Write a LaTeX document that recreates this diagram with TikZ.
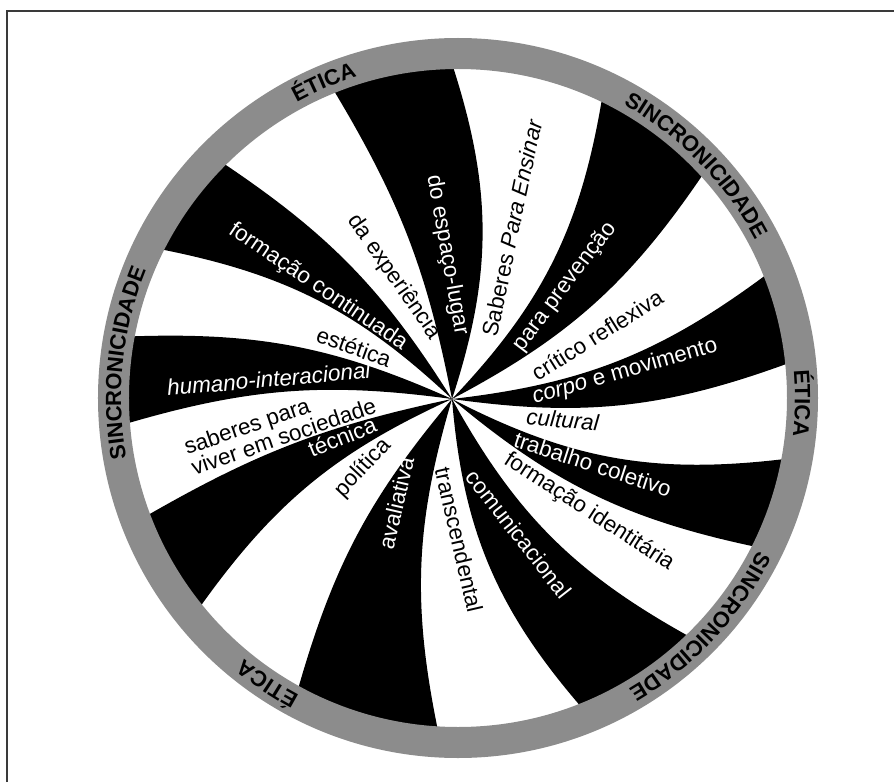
\documentclass[tikz,border=0pt]{standalone}
\usepackage{fontspec}
\setmainfont{Liberation Sans}
\usepackage{xcolor}
\definecolor{ringgray}{HTML}{8C8C8C}
\definecolor{frameline}{HTML}{3A3A3A}
\usepackage{tikz}
\usetikzlibrary{decorations.text}

\begin{document}
\begin{tikzpicture}[x=1pt, y=1pt,
    every node/.style={font=\fontsize{22.5}{20}\selectfont, inner sep=0pt},
    onblack/.style={text=white},
    onwhite/.style={text=black},
    spoke/.style={fill=black},
    ring/.style={draw=ringgray, line width=31pt},
    ringtext/.style={decorate, decoration={text along path, text align=center,
        text={|\fontsize{22}{22}\selectfont\bfseries|#1}}}]
  \useasboundingbox (-458,-384) rectangle (436,398);
  % frame
  \coordinate (fa) at (-451,-384);
  \coordinate (fb) at (-451,387);
  \coordinate (fc) at (436,387);
  \draw[frameline, line width=2pt] (fa) -- (fb) -- (fc);
  % pinwheel spokes: edge angle/bend, edge angle/bend
  \coordinate (hub) at (-6,-1);
  \foreach \a/\ba/\b/\bb in {112/10/90.9/18, 64.3/17/42.4/14, 21.8/15/6.0/14,
                             -10.6/17/-26.6/14, -45.9/16/-68.3/18,
                             -93.5/14/-118.8/12, -141/15/-159.3/9,
                             184.4/12/169.3/13, 153.4/16/135/12}
    \fill[spoke] (hub) to[bend right=\ba] (\a:332)
      arc[start angle=\a, end angle=\b, radius=332] to[bend left=\bb] (hub);
  % ring
  \draw[ring] (0,0) circle[radius=344.5];
  \path[ringtext=ÉTICA] (143:337) arc[start angle=143, end angle=83, radius=337];
  \path[ringtext=SINCRONICIDADE] (74.3:337) arc[start angle=74.3, end angle=14.3, radius=337];
  \path[ringtext=ÉTICA] (29.1:337) arc[start angle=29.1, end angle=-30.9, radius=337];
  \path[ringtext=SINCRONICIDADE] (-13.3:337) arc[start angle=-13.3, end angle=-73.3, radius=337];
  \path[ringtext=ÉTICA] (-93.7:337) arc[start angle=-93.7, end angle=-153.7, radius=337];
  \path[ringtext=SINCRONICIDADE] (204:337) arc[start angle=204, end angle=144, radius=337];
  % labels
  \node[onblack, rotate=-80] (espaco) at (-11,143) {do espaço-lugar};
  \node[onwhite, rotate=78] (ensinar) at (54,170) {Saberes \textit{Para Ensinar}};
  \node[onblack, rotate=53] (prevencao) at (107,111) {para prevenção};
  \node[onwhite, rotate=32] (critico) at (139,63) {crítico reflexiva};
  \node[onblack, rotate=16] (corpo) at (167,26) {\textit{corpo} e movimento};
  \node[onwhite, rotate=-5] (cultural) at (105,-22) {\textit{cultural}};
  \node[onblack, rotate=-18] (trabalho) at (135,-66) {trabalho coletivo};
  \node[onwhite, rotate=-33] (identitaria) at (131,-114) {formação identitária};
  \node[onblack, rotate=-52] (comunic) at (61,-136) {comunicacional};
  \node[onwhite, rotate=-77] (transc) at (1,-142) {transcendental};
  \node[onblack, rotate=77] (avaliativa) at (-62,-105) {avaliativa};
  \node[onwhite, rotate=47] (politica) at (-95,-70) {política};
  \node[onblack, rotate=22] (tecnica) at (-116,-39) {técnica};
  \node[onwhite, rotate=19, align=left] (viver) at (-178,-28) {saberes para\\viver em sociedade};
  \node[onblack, rotate=5] (humano) at (-189,19) {\textit{humano-interacional}};
  \node[onwhite, rotate=-20] (estetica) at (-104,51) {estética};
  \node[onblack, rotate=-34] (continuada) at (-140,111) {formação continuada};
  \node[onwhite, rotate=-55] (experiencia) at (-64,121) {da experiência};
\end{tikzpicture}
\end{document}
